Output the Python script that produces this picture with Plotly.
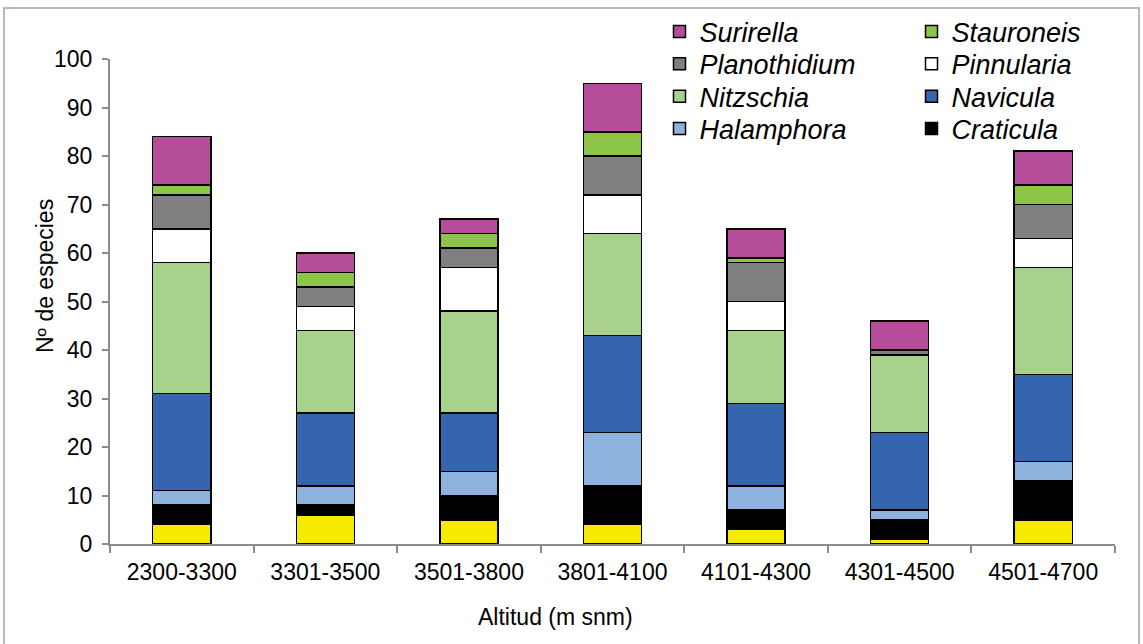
import plotly.graph_objects as go

categories = ["2300-3300", "3301-3500", "3501-3800", "3801-4100", "4101-4300", "4301-4500", "4501-4700"]

otras        = [4, 6, 5, 4, 3, 1, 5]
craticula    = [4, 2, 5, 8, 4, 4, 8]
halamphora   = [3, 4, 5, 11, 5, 2, 4]
navicula     = [20, 15, 12, 20, 17, 16, 18]
nitzschia    = [27, 17, 21, 21, 15, 16, 22]
pinnularia   = [7, 5, 9, 8, 6, 0, 6]
planothidium = [7, 4, 4, 8, 8, 1, 7]
stauroneis   = [2, 3, 3, 5, 1, 0, 4]
surirella    = [10, 4, 3, 10, 6, 6, 7]

y_ticks = [0, 10, 20, 30, 40, 50, 60, 70, 80, 90, 100]

# name, values, color, show in legend
series = [
    ("Otras", otras, "#F5EA00", False),
    ("Craticula", craticula, "#000000", True),
    ("Halamphora", halamphora, "#8EB2DE", True),
    ("Navicula", navicula, "#3565AE", True),
    ("Nitzschia", nitzschia, "#A8D18B", True),
    ("Pinnularia", pinnularia, "#FFFFFF", True),
    ("Planothidium", planothidium, "#7F7F7F", True),
    ("Stauroneis", stauroneis, "#8DC549", True),
    ("Surirella", surirella, "#B64D9A", True),
]

# legend layout: name -> (column, row)
legend_slots = {
    "Surirella": (0, 0), "Stauroneis": (1, 0),
    "Planothidium": (0, 1), "Pinnularia": (1, 1),
    "Nitzschia": (0, 2), "Navicula": (1, 2),
    "Halamphora": (0, 3), "Craticula": (1, 3),
}

FONT = "Liberation Sans, Arial, sans-serif"
AX = "#8C8C8C"
L, R, T, B = 110, 28, 59, 100
PW = 1143 - L - R
PH = 644 - T - B

def px_x(p):
    return (p - L) / PW

def px_y(p):
    return 1 - (p - T) / PH

fig = go.Figure()
legend_layouts = {}
idx = 0
for name, vals, color, show in series:
    kw = {}
    if show:
        idx += 1
        lname = "legend" if idx == 1 else f"legend{idx}"
        col, row = legend_slots[name]
        xstart = [659.5, 911.5][col]
        yc = 32 + 32.3 * row
        legend_layouts[lname] = dict(
            x=px_x(xstart), y=px_y(yc), xanchor="left", yanchor="middle",
            orientation="v", bgcolor="rgba(0,0,0,0)",
            font=dict(family=FONT, size=27, color="#000000", style="italic"),
        )
        kw["legend"] = lname
    fig.add_trace(go.Bar(
        x=categories, y=vals, name=name,
        marker=dict(color=color, line=dict(color="#000000", width=1.5)),
        showlegend=show, **kw,
    ))

fig.update_layout(
    width=1143, height=644,
    barmode="stack", bargap=0.595,
    plot_bgcolor="white", paper_bgcolor="white",
    margin=dict(l=L, r=R, t=T, b=B, autoexpand=False),
    font=dict(family=FONT, size=23, color="#000000"),
    xaxis=dict(
        type="category", showline=True, linecolor=AX, linewidth=2,
        ticks="outside", tickson="boundaries", ticklen=7, tickwidth=2, tickcolor=AX,
        ticklabelstandoff=6,
        showgrid=False, tickfont=dict(size=23, color="#000000"),
    ),
    yaxis=dict(
        range=[0, 100], tickvals=y_ticks, showline=True, linecolor=AX, linewidth=2,
        ticks="outside", ticklen=6, tickwidth=2, tickcolor=AX,
        ticklabelstandoff=5,
        showgrid=False, zeroline=False, tickfont=dict(size=23, color="#000000"),
    ),
    annotations=[
        dict(text="Altitud (m snm)", xref="paper", yref="paper", x=px_x(555), y=px_y(617),
             showarrow=False, xanchor="center", yanchor="middle", font=dict(size=23, color="#000000")),
        dict(text="Nº de especies", xref="paper", yref="paper", x=px_x(45), y=px_y(276),
             showarrow=False, textangle=-90, xanchor="center", yanchor="middle", font=dict(size=23, color="#000000")),
    ],
    shapes=[
        dict(type="rect", xref="paper", yref="paper",
             x0=px_x(4), x1=px_x(1139), y0=px_y(660), y1=px_y(8),
             line=dict(color="#B4BAC0", width=2), fillcolor="rgba(0,0,0,0)", layer="below"),
    ],
    **legend_layouts,
)

fig.write_html("out.html", config={"displayModeBar": False},
               post_script="document.body.style.margin='0';document.body.style.overflow='hidden';")
